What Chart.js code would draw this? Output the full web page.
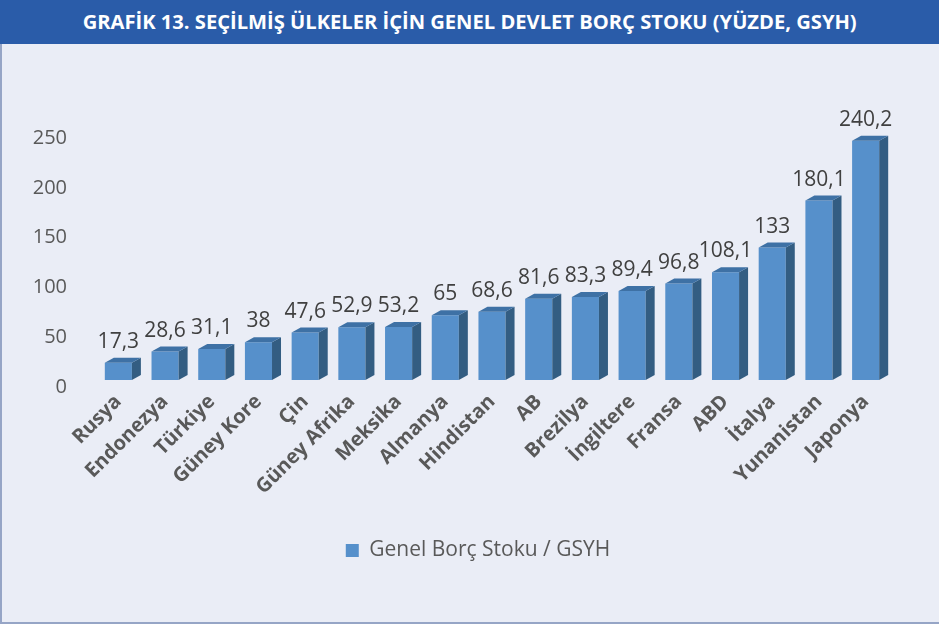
<!DOCTYPE html>
<html>
<head>
<meta charset="utf-8">
<script src="https://cdn.jsdelivr.net/npm/chart.js@4"></script>
<style>
  html, body { margin: 0; padding: 0; }
  body { width: 939px; height: 624px; position: relative; overflow: hidden; background: #eaedf6; font-family: "Open Sans", sans-serif; }
  #frame { position: absolute; left: 0; top: 0; width: 937px; height: 622px; border-left: 2px solid #96a5c6; border-bottom: 2px solid #96a5c6; }
  #title { position: absolute; left: 0; top: 0; width: 939px; height: 44px; background: #2a5ca9; color: #fff; text-align: center; line-height: 44px; white-space: nowrap; }
  #title span { display: inline-block; font-weight: 700; font-size: 19.5px; transform-origin: center; }
  #chart { position: absolute; left: 0; top: 44px; }
</style>
</head>
<body>
<div id="frame"></div>
<div id="title"><span id="titleText">GRAFİK 13. SEÇİLMİŞ ÜLKELER İÇİN GENEL DEVLET BORÇ STOKU (YÜZDE, GSYH)</span></div>
<canvas id="chart" width="939" height="578"></canvas>
<script>
const countries = ['Rusya', 'Endonezya', 'Türkiye', 'Güney Kore', 'Çin', 'Güney Afrika', 'Meksika', 'Almanya', 'Hindistan', 'AB', 'Brezilya', 'İngiltere', 'Fransa', 'ABD', 'İtalya', 'Yunanistan', 'Japonya'];
const debtRatio = [17.3, 28.6, 31.1, 38, 47.6, 52.9, 53.2, 65, 68.6, 81.6, 83.3, 89.4, 96.8, 108.1, 133, 180.1, 240.2];
const seriesName = 'Genel Borç Stoku / GSYH';

// squeeze the title so it looks like the condensed original
(function () {
  const t = document.getElementById('titleText');
  const w = t.getBoundingClientRect().width;
  t.style.transform = 'scaleX(' + (774 / w) + ')';
})();

const frontColor = '#5690cb';
const sideColor = '#335d82';
const topColor = '#3e71a5';

// fake 3d: side and top faces next to each bar, value labels above
const bar3d = {
  id: 'bar3d',
  afterLayout(chart) {
    // legend sits centred on the whole picture, not on the padded area
    chart.legend.left += 17;
    chart.legend.right += 17;
  },
  afterDatasetsDraw(chart) {
    const ctx = chart.ctx;
    const meta = chart.getDatasetMeta(0);
    const d = 9, dy = 5;
    ctx.save();
    meta.data.forEach((bar, i) => {
      const l = bar.x - bar.width / 2;
      const r = bar.x + bar.width / 2;
      const t = bar.y, b = bar.base;
      ctx.fillStyle = sideColor;
      ctx.beginPath();
      ctx.moveTo(r, t);
      ctx.lineTo(r + d, t - dy);
      ctx.lineTo(r + d, b - dy);
      ctx.lineTo(r, b);
      ctx.closePath();
      ctx.fill();
      ctx.fillStyle = topColor;
      ctx.beginPath();
      ctx.moveTo(l, t);
      ctx.lineTo(l + d, t - dy);
      ctx.lineTo(r + d, t - dy);
      ctx.lineTo(r, t);
      ctx.closePath();
      ctx.fill();

      ctx.fillStyle = '#404040';
      ctx.font = '21px "Open Sans"';
      ctx.textAlign = 'center';
      ctx.textBaseline = 'alphabetic';
      ctx.fillText(String(debtRatio[i]).replace('.', ','), bar.x, t - 15);
    });
    ctx.restore();
  }
};

new Chart(document.getElementById('chart'), {
  type: 'bar',
  data: {
    labels: countries,
    datasets: [{
      label: seriesName,
      data: debtRatio,
      backgroundColor: frontColor,
      barPercentage: 0.58,
      categoryPercentage: 1
    }]
  },
  options: {
    responsive: false,
    devicePixelRatio: 1,
    animation: false,
    layout: { padding: { top: 87, left: 33, right: 50, bottom: 51 } },
    scales: {
      x: {
        grid: { display: false },
        border: { display: false },
        ticks: {
          autoSkip: false,
          minRotation: 45,
          maxRotation: 45,
          padding: 2,
          color: '#595959',
          font: { family: 'Open Sans', size: 20, weight: 'bold' }
        },
        afterFit(scale) { scale.height = 150; }
      },
      y: {
        min: 0,
        max: 250,
        grid: { display: false, drawTicks: false },
        border: { display: false },
        ticks: {
          stepSize: 50,
          padding: 28,
          labelOffset: 7,
          color: '#595959',
          font: { family: 'Open Sans', size: 20 }
        },
        afterFit(scale) { scale.width = 62; }
      }
    },
    plugins: {
      legend: {
        position: 'bottom',
        labels: {
          boxWidth: 13,
          boxHeight: 13,
          color: '#595959',
          font: { family: 'Open Sans', size: 21 }
        }
      },
      tooltip: { enabled: false }
    }
  },
  plugins: [bar3d]
});
</script>
</body>
</html>
